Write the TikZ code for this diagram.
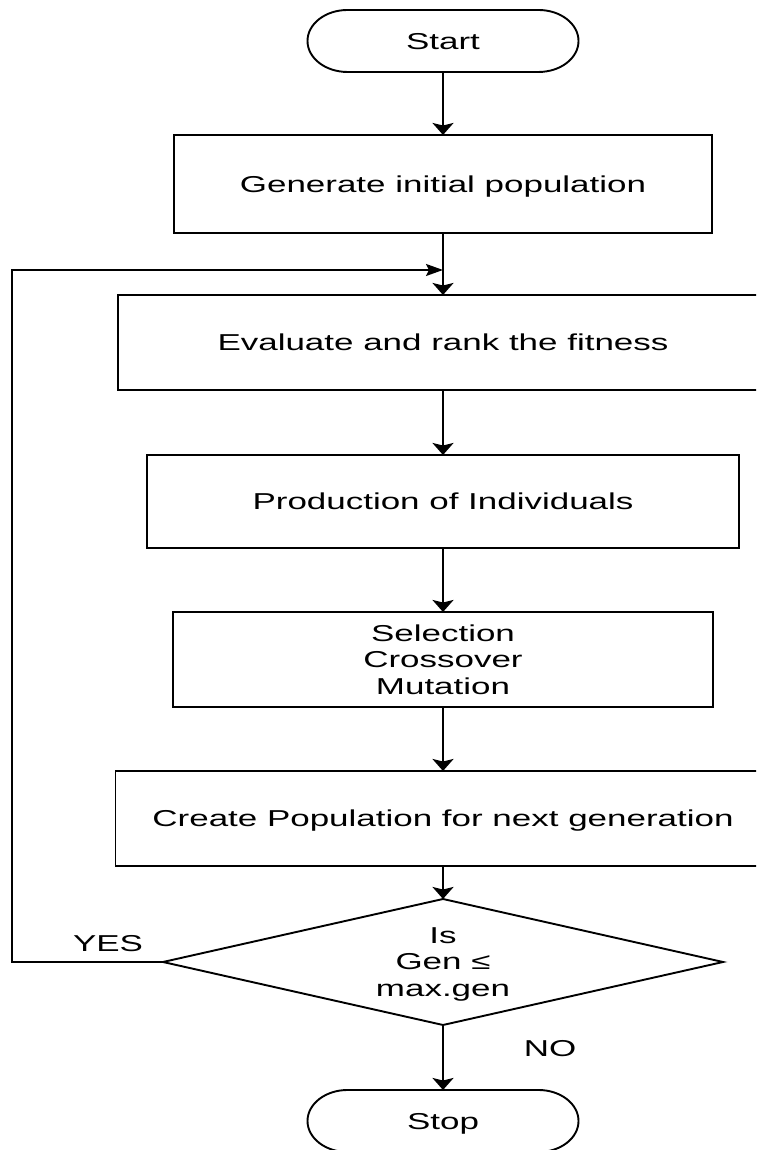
\documentclass[tikz,border=0pt]{standalone}
\usepackage{fontspec}
\setmainfont[FakeStretch=1.52]{Liberation Sans}
\usetikzlibrary{arrows.meta,shapes.geometric}
\begin{document}
\begin{tikzpicture}[x=1pt,y=1pt,
  line/.style={line width=1.9pt, draw=black},
  arr/.style={line, -{Stealth[length=12pt,width=21pt,inset=2.5pt]}},
  harr/.style={line, -{Stealth[length=17pt,width=12pt,inset=3pt]}},
  txt/.style={font=\fontsize{23}{26.5}\selectfont, align=center},
  one/.style={text height=16.6pt, text depth=0pt},
  box/.style={txt, draw, line width=1.9pt, rectangle, inner sep=0pt, outer sep=0pt},
  term/.style={txt, one, rectangle, inner sep=0pt, outer sep=0pt, minimum width=271pt, minimum height=62pt},
  decision/.style={txt, draw, line width=1.9pt, diamond, shape aspect=4.44, inner sep=0pt, outer sep=0pt, minimum width=560pt, minimum height=126pt}
]
\useasboundingbox (0,0) rectangle (756,1150);
\clip (0,0) rectangle (756,1150);
\fill[white] (0,0) rectangle (756,1150);

\node[term] (start) at (443,1109) {Start};
\node[box, one, minimum width=538pt, minimum height=98pt] (gen) at (443,966) {Generate initial population};
\node[box, one, minimum width=650pt, minimum height=95pt] (eval) at (443,807.5) {Evaluate and rank the fitness};
\node[box, one, minimum width=592pt, minimum height=93pt] (prod) at (443,648.5) {Production of Individuals};
\node[box, minimum width=540pt, minimum height=95pt] (sel) at (443,490.5) {Selection\\Crossover\\Mutation};
\node[box, one, minimum width=655pt, minimum height=95pt] (create) at (443,331.5) {Create Population for next generation};
\node[decision] (dec) at (443,188) {Is\\Gen ≤\\\smash{max.gen}};
\node[term] (stop) at (443,29) {Stop};

\foreach \n in {start,stop}{
  \draw[line] ([xshift=40pt]\n.north west) -- ([xshift=-40pt]\n.north east)
    arc[start angle=90,end angle=-90,x radius=40pt,y radius=31pt]
    -- ([xshift=40pt]\n.south west)
    arc[start angle=270,end angle=90,x radius=40pt,y radius=31pt] -- cycle;
}

\draw[arr] (start) -- (gen);
\draw[arr] (gen) -- (eval);
\draw[arr] (eval) -- (prod);
\draw[arr] (prod) -- (sel);
\draw[arr] (sel) -- (create);
\draw[arr] (create) -- (dec);
\draw[arr] (dec) -- (stop);

\coordinate (loopl) at (12,880);
\coordinate (loopin) at (443,880);
\draw[harr] (dec.west) -| (loopl) -- (loopin);

\node[txt, one] (yes) at (108,207) {YES};
\node[txt, one] (no) at (550,102) {NO};
\end{tikzpicture}
\end{document}
